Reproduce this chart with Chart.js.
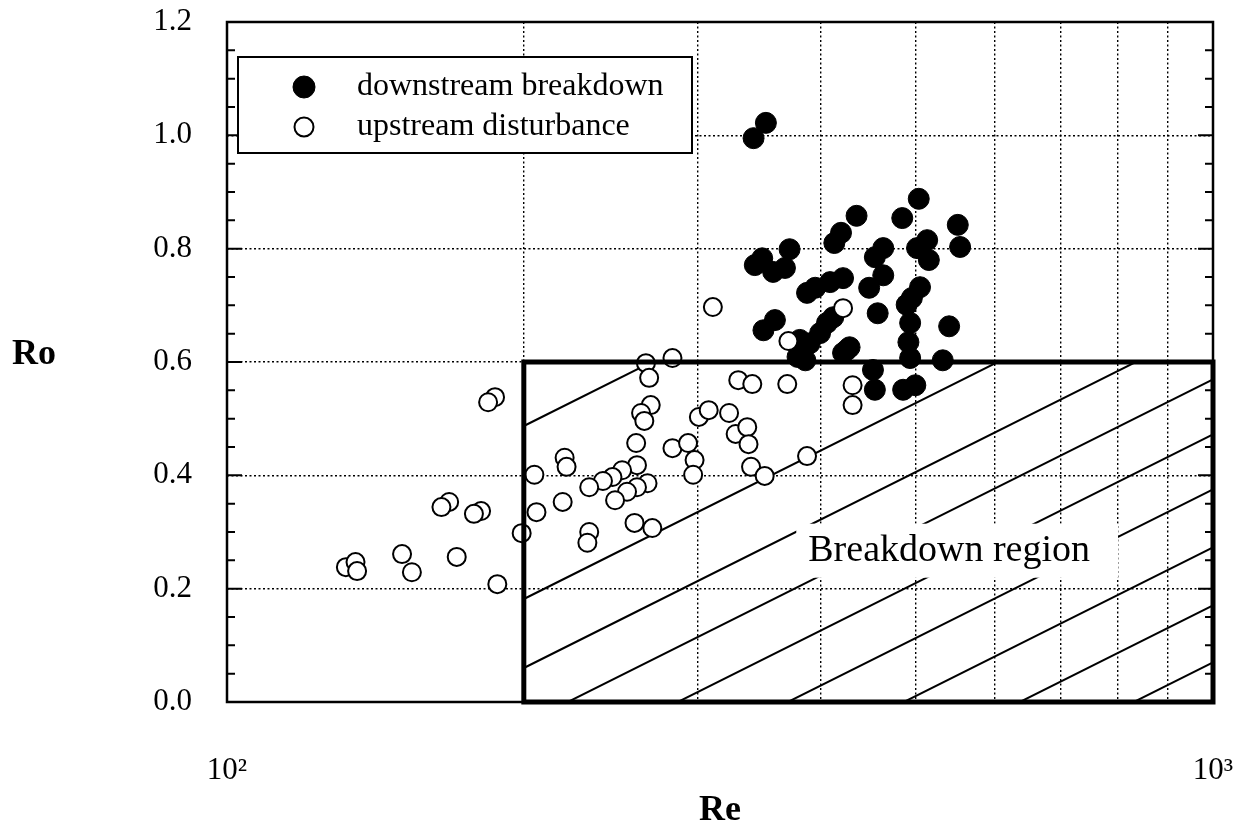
<!DOCTYPE html>
<html>
<head>
<meta charset="utf-8">
<title>Ro vs Re</title>
<script src="https://cdn.jsdelivr.net/npm/chart.js@4.4.1/dist/chart.umd.min.js"></script>
<style>
  html, body { margin: 0; padding: 0; background: #fff; }
  #wrap { width: 1244px; height: 835px; }
</style>
</head>
<body>
<div id="wrap"><canvas id="roChart" width="1244" height="835"></canvas></div>
<script>
// downstream breakdown (filled circles)
const reDown = [352, 342, 503, 435, 484, 551, 419.5, 413, 513, 501, 515, 554, 463, 454, 463, 448,
  421.5, 409, 504.5, 495, 489, 457, 493, 491, 493, 540, 532, 428, 421.5, 452, 454, 485, 499,
  372, 349, 343, 358, 368, 395, 387.5, 350, 359.5, 381, 386, 379, 390, 399.5, 406, 412, 425];
const roDown = [1.022, 0.995, 0.888, 0.858, 0.854, 0.842, 0.828, 0.810, 0.815, 0.801, 0.780, 0.803,
  0.801, 0.785, 0.753, 0.731, 0.748, 0.741, 0.732, 0.713, 0.701, 0.686, 0.669, 0.635, 0.607, 0.663,
  0.603, 0.626, 0.616, 0.586, 0.551, 0.551, 0.559, 0.799, 0.783, 0.771, 0.759, 0.766, 0.731, 0.722,
  0.656, 0.674, 0.639, 0.603, 0.609, 0.633, 0.651, 0.669, 0.679, 0.621];

// upstream disturbance (open circles)
const reUp = [187, 184, 168, 165, 181, 178, 199, 150.5, 171, 154, 132, 135, 135.5, 188,
  266, 283, 268, 269, 263, 265, 260, 260.5, 267, 260.5, 254.5, 247.5, 251.6, 246, 240.6, 233,
  259, 270, 233, 232, 219, 206, 205, 220, 221, 301, 308, 323, 283, 293.5, 298, 297,
  330, 341, 328, 337, 338, 340, 311, 421.5, 371, 370, 431, 431, 351, 387.5];
const roUp = [0.538, 0.529, 0.353, 0.344, 0.337, 0.332, 0.298, 0.261, 0.256, 0.229, 0.238, 0.247, 0.231, 0.208,
  0.598, 0.607, 0.572, 0.524, 0.510, 0.496, 0.457, 0.418, 0.386, 0.379, 0.371, 0.356, 0.409, 0.397, 0.390, 0.379,
  0.316, 0.307, 0.300, 0.281, 0.353, 0.335, 0.401, 0.431, 0.415, 0.503, 0.515, 0.510, 0.448, 0.457, 0.427, 0.401,
  0.568, 0.561, 0.473, 0.485, 0.455, 0.415, 0.697, 0.695, 0.637, 0.561, 0.559, 0.524, 0.399, 0.434];

const yTicks = [0, 0.2, 0.4, 0.6, 0.8, 1.0, 1.2];
const xTicks = [100, 200, 300, 400, 500, 600, 700, 800, 900, 1000];
const xTickLabels = { 100: '10²', 1000: '10³' };

// breakdown region (Re, Ro)
const regionRe = [200, 1000];
const regionRo = [0, 0.6];
const regionLabel = 'Breakdown region';
const regionLabelAt = [540, 0.267];

const serif = "'Liberation Serif', 'Times New Roman', serif";

function toPoints(xs, ys) {
  return xs.map((x, i) => ({ x: x, y: ys[i] }));
}

// hatch lines: where each one meets the left side of the region, px below its top
const hatchStarts = [64, 237, 306, 362, 417, 472, 530, 588, 645];

const figurePlugin = {
  id: 'figure',
  beforeDatasetsDraw(chart) {
    const ctx = chart.ctx;
    const xs = chart.scales.x, ys = chart.scales.y;
    const x1 = xs.getPixelForValue(regionRe[0]), x2 = xs.getPixelForValue(regionRe[1]);
    const y1 = ys.getPixelForValue(regionRo[1]), y2 = ys.getPixelForValue(regionRo[0]);

    // hatching
    ctx.save();
    ctx.beginPath();
    ctx.rect(x1, y1, x2 - x1, y2 - y1);
    ctx.clip();
    ctx.strokeStyle = '#000';
    ctx.lineWidth = 2;
    hatchStarts.forEach(off => {
      ctx.beginPath();
      ctx.moveTo(x1, y1 + off);
      ctx.lineTo(x2, y1 + off - 0.5 * (x2 - x1));
      ctx.stroke();
    });
    ctx.restore();

    // label with white box
    const lx = xs.getPixelForValue(regionLabelAt[0]);
    const ly = ys.getPixelForValue(regionLabelAt[1]);
    ctx.save();
    ctx.font = '38px ' + serif;
    const w = ctx.measureText(regionLabel).width;
    ctx.fillStyle = '#fff';
    ctx.fillRect(lx - w / 2 - 12, ly - 27, w + 40, 54);
    ctx.fillStyle = '#000';
    ctx.textAlign = 'center';
    ctx.textBaseline = 'middle';
    ctx.fillText(regionLabel, lx, ly);
    ctx.restore();
  },
  afterDatasetsDraw(chart) {
    const ctx = chart.ctx;
    const a = chart.chartArea;
    const xs = chart.scales.x, ys = chart.scales.y;
    const x1 = xs.getPixelForValue(regionRe[0]), x2 = xs.getPixelForValue(regionRe[1]);
    const y1 = ys.getPixelForValue(regionRo[1]), y2 = ys.getPixelForValue(regionRo[0]);

    ctx.save();
    ctx.strokeStyle = '#000';

    // frame
    ctx.lineWidth = 2.5;
    ctx.strokeRect(a.left, a.top, a.right - a.left, a.bottom - a.top);

    // inner ticks on left and right
    ctx.lineWidth = 2;
    for (let v = 0.05; v < 1.2; v += 0.05) {
      const p = ys.getPixelForValue(v);
      const major = Math.abs(v * 5 - Math.round(v * 5)) < 1e-6;
      const len = major ? 15 : 8;
      ctx.beginPath();
      ctx.moveTo(a.left, p); ctx.lineTo(a.left + len, p);
      ctx.moveTo(a.right, p); ctx.lineTo(a.right - len, p);
      ctx.stroke();
    }

    // region border
    ctx.lineWidth = 5;
    ctx.strokeRect(x1, y1, x2 - x1, y2 - y1);

    // legend
    const lx = a.left + 11, ly = a.top + 35;
    ctx.lineWidth = 2;
    ctx.fillStyle = '#fff';
    ctx.fillRect(lx, ly, 454, 96);
    ctx.strokeRect(lx, ly, 454, 96);
    ctx.font = '32px ' + serif;
    ctx.textBaseline = 'middle';
    chart.data.datasets.forEach((ds, i) => {
      const cy = ly + 30 + i * 40;
      ctx.beginPath();
      ctx.arc(lx + 66, cy, ds.pointRadius + 0.5, 0, Math.PI * 2);
      ctx.fillStyle = ds.backgroundColor;
      ctx.fill();
      ctx.lineWidth = ds.borderWidth;
      ctx.strokeStyle = '#000';
      ctx.stroke();
      ctx.fillStyle = '#000';
      ctx.fillText(ds.label, lx + 119, cy);
    });

    // axis titles
    ctx.font = 'bold 36px ' + serif;
    ctx.textAlign = 'center';
    ctx.textBaseline = 'alphabetic';
    ctx.fillText('Ro', 34, ys.getPixelForValue(0.6) + 2);
    ctx.fillText('Re', (a.left + a.right) / 2, 820);
    ctx.restore();
  }
};

const ctx = document.getElementById('roChart').getContext('2d');
const roChart = new Chart(ctx, {
  type: 'scatter',
  data: {
    datasets: [
      {
        label: 'downstream breakdown',
        data: toPoints(reDown, roDown),
        pointRadius: 10.5,
        pointHoverRadius: 10.5,
        backgroundColor: '#000',
        borderColor: '#000',
        borderWidth: 1,
        order: 2
      },
      {
        label: 'upstream disturbance',
        data: toPoints(reUp, roUp),
        pointRadius: 9,
        pointHoverRadius: 9,
        backgroundColor: '#fff',
        borderColor: '#000',
        borderWidth: 2,
        order: 1
      }
    ]
  },
  options: {
    responsive: false,
    animation: false,
    layout: { padding: { top: 22, right: 31, left: 0, bottom: 0 } },
    plugins: {
      legend: { display: false },
      tooltip: { enabled: false }
    },
    scales: {
      x: {
        type: 'logarithmic',
        min: 100,
        max: 1000,
        afterBuildTicks: function (scale) { scale.ticks = xTicks.map(v => ({ value: v })); },
        afterFit: function (scale) {
          scale.height = 133;
          scale.paddingLeft = 0;
          scale.paddingRight = 0;
        },
        ticks: {
          autoSkip: false,
          maxRotation: 0,
          padding: 50,
          color: '#000',
          font: { family: serif, size: 31 },
          callback: function (value) { return xTickLabels[value] || ''; }
        },
        grid: { color: '#000', lineWidth: 1.4, drawTicks: false },
        border: { display: false, dash: [2, 2.5] }
      },
      y: {
        min: 0,
        max: 1.2,
        afterBuildTicks: function (scale) { scale.ticks = yTicks.map(v => ({ value: v })); },
        afterFit: function (scale) {
          scale.width = 227;
          scale.paddingTop = 0;
          scale.paddingBottom = 0;
        },
        ticks: {
          padding: 35,
          color: '#000',
          font: { family: serif, size: 31 },
          callback: function (value) { return value.toFixed(1); }
        },
        grid: { color: '#000', lineWidth: 1.4, drawTicks: false },
        border: { display: false, dash: [2, 2.5] }
      }
    }
  },
  plugins: [figurePlugin]
});
</script>
</body>
</html>
